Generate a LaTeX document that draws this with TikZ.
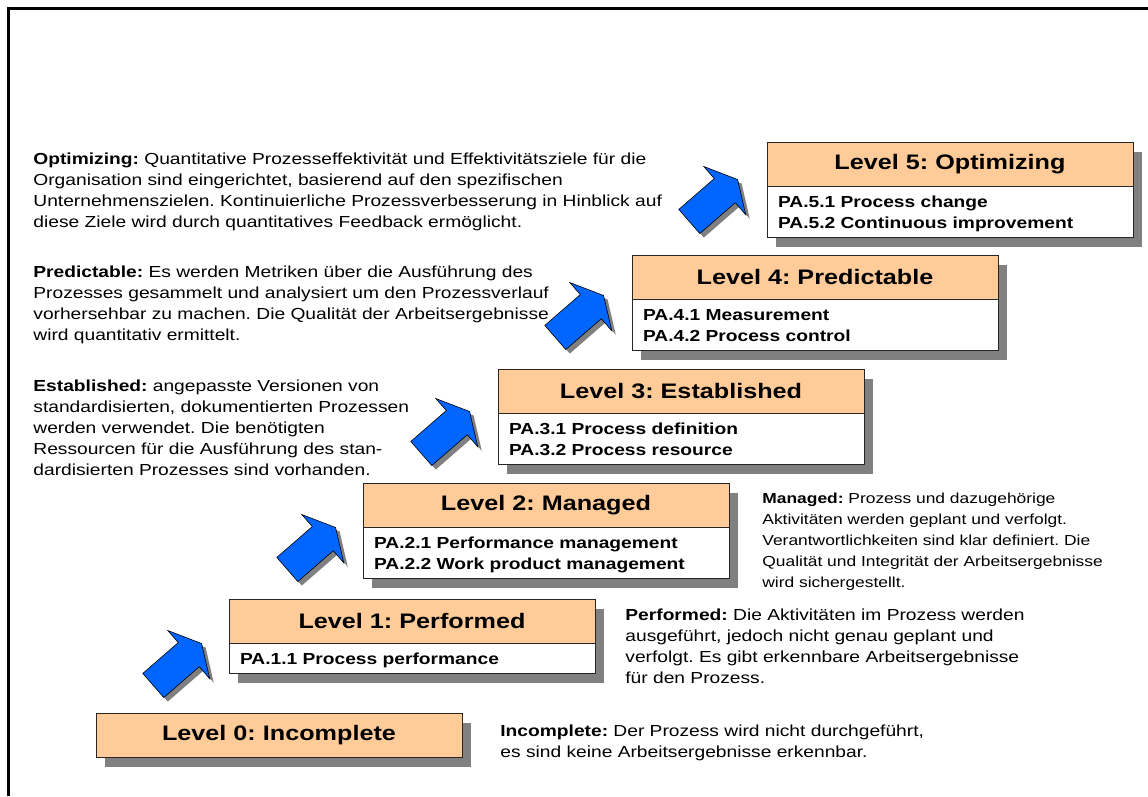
\documentclass[tikz,border=0pt]{standalone}
\usepackage{fontspec}
\setmainfont{Liberation Sans}[FakeStretch=1.2]
\usepackage{tikz}
\usetikzlibrary{positioning, shadows}
\tikzset{every picture/.append style={thick}}
\frenchspacing
\definecolor{peach}{RGB}{255,204,153}
\definecolor{arrowblue}{RGB}{0,102,255}
\newcommand{\pastrut}{\rule[-4pt]{0pt}{21pt}}
\tikzset{
  boxshadow/.style={drop shadow={shadow xshift=9pt, shadow yshift=-10pt, fill=gray, opacity=1}},
  lvlhead/.style={draw=black!85, fill=peach, minimum width=366pt, minimum height=44pt,
    inner sep=0pt, outer sep=0pt, font=\fontsize{21}{25}\selectfont\bfseries, boxshadow},
  lvlbody/.style={draw=black!85, fill=white, text width=344pt, inner xsep=11pt, inner ysep=4.5pt,
    outer sep=0pt, align=left, font=\fontsize{16}{21}\selectfont\bfseries, boxshadow,
    execute at begin node=\pastrut, execute at end node=\pastrut},
  desc/.style={anchor=north west, inner sep=0pt, align=left, font=\fontsize{16}{21}\selectfont},
}

\begin{document}
\begin{tikzpicture}[x=1pt, y=1pt]
    \useasboundingbox (0,0) rectangle (1148,796);

    % ফ্রেম (উপরের এবং বাম দিকের রেখা)
    \draw[line width=3pt] (8,0) -- (8,787) -- (1148,787);

    % সিঁড়ির ধাপগুলোর মাঝে নীল তীর (Arrows)
    \foreach \i in {0,...,4} {
        \fill[gray] [shift={(157.3+134*\i, 106.5+116*\i)}, rotate=41]
            (0,-16) -- (47,-16) -- (47,-32) -- (64,0) -- (47,32) -- (47,16) -- (0,16) -- cycle;
        \filldraw[fill=arrowblue, draw=black, line width=0.6pt] [shift={(153.3+134*\i, 110.5+116*\i)}, rotate=41]
            (0,-16) -- (47,-16) -- (47,-32) -- (64,0) -- (47,32) -- (47,16) -- (0,16) -- cycle;
    }

    % লেভেল বক্স (Level 0 ... Level 5)
    \node[lvlhead, anchor=north west] (lvl0) at (96,83) {Level 0: Incomplete};

    \node[lvlhead, anchor=north west] (lvl1) at (229,197) {Level 1: Performed};
    \node[lvlbody, below=0pt of lvl1] (pa1) {PA.1.1 Process performance};

    \node[lvlhead, anchor=north west] (lvl2) at (363,313) {Level 2: Managed};
    \node[lvlbody, below=0pt of lvl2] (pa2) {PA.2.1 Performance management\\PA.2.2 Work product management};

    \node[lvlhead, anchor=north west] (lvl3) at (498,427) {Level 3: Established};
    \node[lvlbody, below=0pt of lvl3] (pa3) {PA.3.1 Process definition\\PA.3.2 Process resource};

    \node[lvlhead, anchor=north west] (lvl4) at (632,541) {Level 4: Predictable};
    \node[lvlbody, below=0pt of lvl4] (pa4) {PA.4.1 Measurement\\PA.4.2 Process control};

    \node[lvlhead, anchor=north west] (lvl5) at (767,654) {Level 5: Optimizing};
    \node[lvlbody, below=0pt of lvl5] (pa5) {PA.5.1 Process change\\PA.5.2 Continuous improvement};

    % প্রতিটি লেভেলের বর্ণনা (Descriptions)
    \node[desc] (desc5) at (33,643.6) {\textbf{Optimizing:} Quantitative Prozesseffektivität und Effektivitätsziele für die\\
        Organisation sind eingerichtet, basierend auf den spezifischen\\
        Unternehmenszielen. Kontinuierliche Prozessverbesserung in Hinblick auf\\
        diese Ziele wird durch quantitatives Feedback ermöglicht.};
    \node[desc] (desc4) at (33,530.6) {\textbf{Predictable:} Es werden Metriken über die Ausführung des\\
        Prozesses gesammelt und analysiert um den Prozessverlauf\\
        vorhersehbar zu machen. Die Qualität der Arbeitsergebnisse\\
        wird quantitativ ermittelt.};
    \node[desc] (desc3) at (33,416.6) {\textbf{Established:} angepasste Versionen von\\
        standardisierten, dokumentierten Prozessen\\
        werden verwendet. Die benötigten\\
        Ressourcen für die Ausführung des stan-\\
        dardisierten Prozesses sind vorhanden.};
    \node[desc, font=\fontsize{14.5}{21}\selectfont] (desc2) at (762,303.5) {\textbf{Managed:} Prozess und dazugehörige\\
        Aktivitäten werden geplant und verfolgt.\\
        Verantwortlichkeiten sind klar definiert. Die\\
        Qualität und Integrität der Arbeitsergebnisse\\
        wird sichergestellt.};
    \node[desc] (desc1) at (625,187.6) {\textbf{Performed:} Die Aktivitäten im Prozess werden\\
        ausgeführt, jedoch nicht genau geplant und\\
        verfolgt. Es gibt erkennbare Arbeitsergebnisse\\
        für den Prozess.};
    \node[desc] (desc0) at (500,71.6) {\textbf{Incomplete:} Der Prozess wird nicht durchgeführt,\\
        es sind keine Arbeitsergebnisse erkennbar.};

\end{tikzpicture}
\end{document}
